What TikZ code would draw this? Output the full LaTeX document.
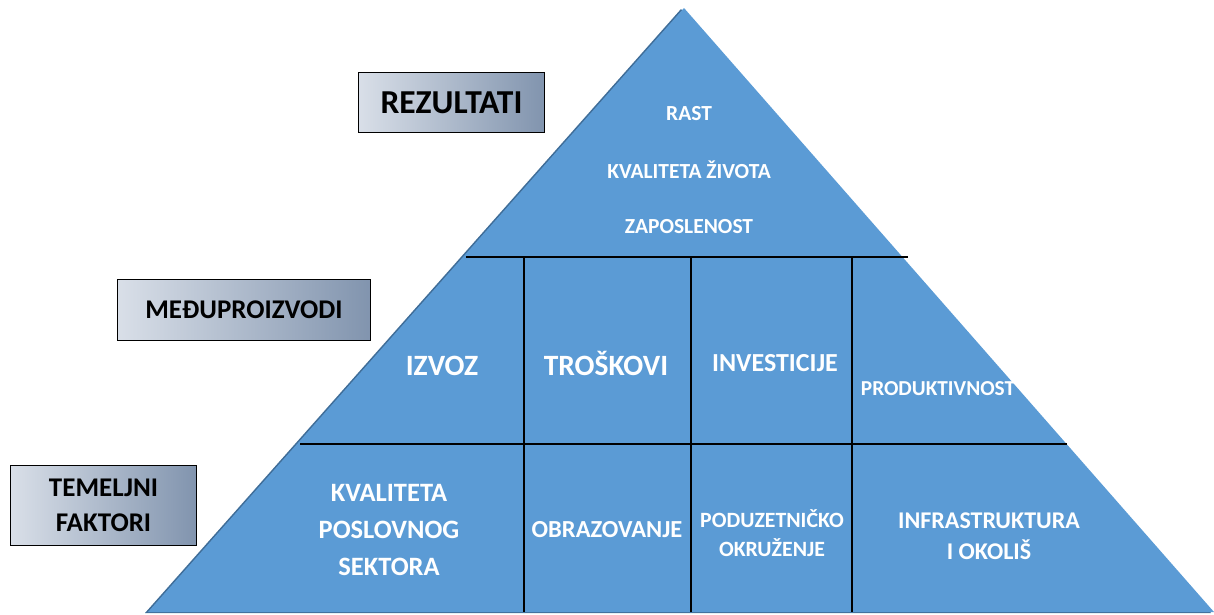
\documentclass[tikz,border=0pt]{standalone}
\usepackage{fontspec}
\setmainfont{Carlito}
\usetikzlibrary{calc}
\definecolor{pyrblue}{HTML}{5B9BD5}
\definecolor{pyrshade}{HTML}{3F6D98}
\definecolor{boxlight}{HTML}{D9DFE8}
\definecolor{boxdark}{HTML}{8194AE}
\newcommand{\fs}[1]{\fontsize{#1}{#1}\selectfont}
\tikzset{
  lblbox/.style={draw=black, line width=1.5pt, left color=boxlight, right color=boxdark,
    inner sep=0pt, align=center, text=black, font=\bfseries},
  pyrtext/.style={text=white, font=\bfseries, align=center, inner sep=0pt},
  divline/.style={black, line width=1.6pt},
}
\begin{document}
\begin{tikzpicture}[x=1pt, y=-1pt]
  \useasboundingbox (0,0) rectangle (1214,614);
  % pyramid
  \coordinate (apex) at (684,8);
  \coordinate (bl) at (148,612);
  \coordinate (br) at (1214,612);
  \fill [pyrshade] ($(apex)+(-3,1)$) -- ($(bl)+(-3,1)$) -- ($(br)+(-3,1)$) -- cycle;
  \fill [pyrblue] (apex) -- (bl) -- (br) -- cycle;
  % levels
  \coordinate (l1a) at ($(apex)!0.4123!(bl)$);
  \coordinate (l1b) at ($(apex)!0.4123!(br)$);
  \coordinate (l2a) at ($(apex)!0.7219!(bl)$);
  \coordinate (l2b) at ($(apex)!0.7219!(br)$);
  \draw [divline] ($(l1a)+(3,0)$) -- ($(l1b)+(5,0)$);
  \draw [divline] ($(l2a)+(3,0)$) -- ($(l2b)$);
  \foreach \x in {524,691,852}
    \draw [divline] (\x,257) -- (\x,612);
  % top
  \node [pyrtext, font=\bfseries\fs{21.5}] (rast) at (689,114) {RAST};
  \node [pyrtext, font=\bfseries\fs{21.5}] (zivot) at (689,170) {KVALITETA ŽIVOTA};
  \node [pyrtext, font=\bfseries\fs{21.5}] (zapos) at (689,227) {ZAPOSLENOST};
  % middle
  \node [pyrtext, font=\bfseries\fs{29.5}, anchor=base] (izvoz) at (442,375) {IZVOZ};
  \node [pyrtext, font=\bfseries\fs{29.5}, anchor=base] (tros) at (606,375) {TROŠKOVI};
  \node [pyrtext, font=\bfseries\fs{26}] (inv) at (775,363) {INVESTICIJE};
  \node [pyrtext, font=\bfseries\fs{21.3}] (prod) at (938,389) {PRODUKTIVNOST};
  % bottom
  \node [pyrtext, font=\bfseries\fs{26.5}] (kval) at (389,530) {KVALITETA\\[10.5pt]POSLOVNOG\\[10.5pt]SEKTORA};
  \node [pyrtext, font=\bfseries\fs{24.5}] (obraz) at (607,530) {OBRAZOVANJE};
  \node [pyrtext, font=\bfseries\fs{21.8}] (poduz) at (772,533) {PODUZETNIČKO\\[7.5pt]OKRUŽENJE};
  \node [pyrtext, font=\bfseries\fs{24}] (infra) at (989,536) {INFRASTRUKTURA\\[7pt]I OKOLIŠ};
  % label boxes
  \node [lblbox, minimum width=186pt, minimum height=60pt, font=\bfseries\fs{33.5}] (rez) at (451.5,102.5) {REZULTATI};
  \node [lblbox, minimum width=253pt, minimum height=61pt, font=\bfseries\fs{27}] (medju) at (244,310) {MEĐUPROIZVODI};
  \node [lblbox, minimum width=186pt, minimum height=80pt, font=\bfseries\fs{27}] (temelj) at (103.5,505.5) {TEMELJNI\\[8pt]FAKTORI};
\end{tikzpicture}
\end{document}
